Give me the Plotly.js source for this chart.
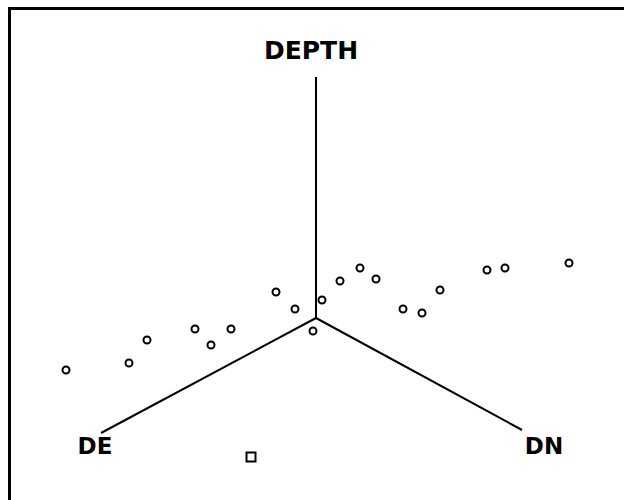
<!DOCTYPE html>
<html>
<head>
<meta charset="utf-8">
<script src="https://cdn.plot.ly/plotly-3.0.1.min.js"></script>
<style>html,body{margin:0;padding:0;background:#fff;}#chart{width:624px;height:500px;}</style>
</head>
<body>
<div id="chart"></div>
<script>
// Projected (screen-plane) coordinates of the pseudo-3D view, origin at the axis junction
const pointX = [-250, -187, -169, -121, -105, -85, -40, -21, -3, 6, 24, 44, 60, 87, 106, 124, 171, 189, 253];
const pointY = [-52, -45, -22, -11, -27, -11, 26, 9, -13, 18, 37, 50, 39, 9, 5, 28, 48, 50, 55];
const squareX = [-65];
const squareY = [-139];
const axisNames = ["DEPTH", "DE", "DN"];
const axisEndX = [0, -215, 206];
const axisEndY = [241, -115, -112];
const labelX = [-5, -221, 228];
const labelY = [265, -130, -130];

const traces = [];
for (let i = 0; i < axisNames.length; i++) {
  traces.push({
    type: 'scatter', mode: 'lines',
    x: [0, axisEndX[i]], y: [0, axisEndY[i]],
    line: {color: '#000', width: 2},
    hoverinfo: 'skip', showlegend: false
  });
}
traces.push({
  type: 'scatter', mode: 'markers',
  x: pointX, y: pointY,
  marker: {symbol: 'circle-open', size: 7, color: '#000', line: {width: 2, color: '#000'}},
  showlegend: false
});
traces.push({
  type: 'scatter', mode: 'markers',
  x: squareX, y: squareY,
  marker: {symbol: 'square-open', size: 9, color: '#000', line: {width: 2, color: '#000'}},
  showlegend: false
});
traces.push({
  type: 'scatter', mode: 'text',
  x: labelX, y: labelY, text: axisNames,
  textposition: 'middle center',
  textfont: {family: 'DejaVu Sans', size: [25, 23, 23], color: '#000', weight: 'bold'},
  hoverinfo: 'skip', showlegend: false, cliponaxis: false
});

const layout = {
  width: 624, height: 500,
  margin: {l: 0, r: 0, t: 0, b: 0},
  paper_bgcolor: '#fff', plot_bgcolor: '#fff',
  xaxis: {range: [-316, 308], visible: false, showgrid: false, zeroline: false, fixedrange: true},
  yaxis: {range: [-182, 318], visible: false, showgrid: false, zeroline: false, fixedrange: true},
  shapes: [{
    type: 'rect', xref: 'paper', yref: 'paper',
    x0: 9.5 / 624, x1: 1.05, y0: -0.05, y1: 1 - 8.5 / 500,
    line: {color: '#000', width: 3}
  }]
};
Plotly.newPlot('chart', traces, layout, {staticPlot: true, displayModeBar: false});
</script>
</body>
</html>
